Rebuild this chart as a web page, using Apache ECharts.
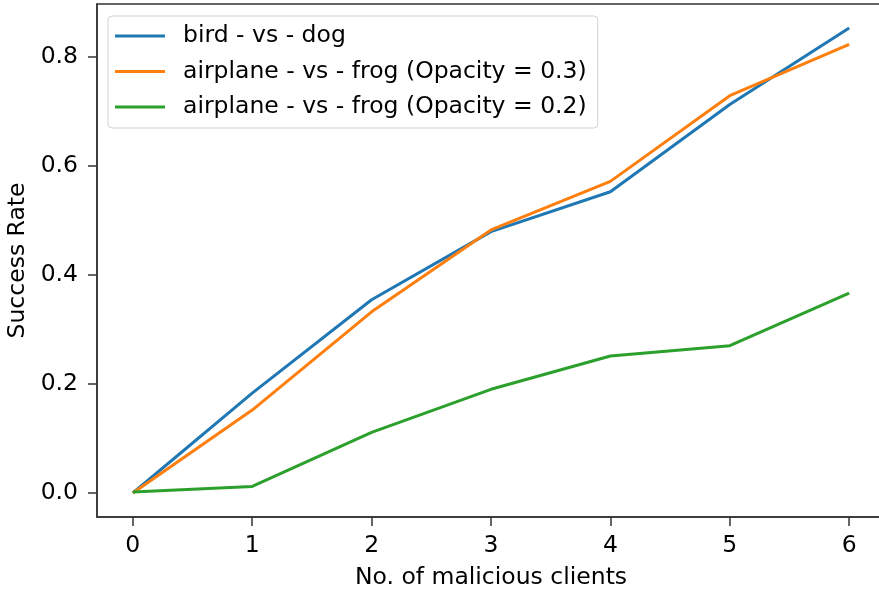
<!DOCTYPE html>
<html>
<head>
<meta charset="utf-8">
<script src="https://cdn.jsdelivr.net/npm/echarts@6/dist/echarts.min.js"></script>
<style>
html,body{margin:0;padding:0;background:#fff;}
#chart{width:879px;height:592px;}
</style>
</head>
<body>
<div id="chart"></div>
<script>
const clients = [0, 1, 2, 3, 4, 5, 6];
const birdVsDog = [0.0, 0.183, 0.354, 0.479, 0.552, 0.712, 0.852];
const airplaneFrog03 = [0.0, 0.152, 0.332, 0.482, 0.571, 0.728, 0.822];
const airplaneFrog02 = [0.002, 0.012, 0.111, 0.190, 0.251, 0.270, 0.366];
const xTicks = [0, 1, 2, 3, 4, 5, 6];
const yTicks = [0.0, 0.2, 0.4, 0.6, 0.8];
const seriesNames = [
  'bird - vs - dog',
  'airplane - vs - frog (Opacity = 0.3)',
  'airplane - vs - frog (Opacity = 0.2)'
];
const colors = ['#1f77b4', '#ff7f0e', '#2ca02c'];

const pair = (ys) => clients.map((x, i) => [x, ys[i]]);
const font = 'DejaVu Sans';
const txt = '#000';
const fs = 23.5;

const chart = echarts.init(document.getElementById('chart'));
chart.setOption({
  animation: false,
  backgroundColor: '#fff',
  color: colors,
  grid: {
    left: 97, top: 4, bottom: 75, right: -6,
    outerBoundsMode: 'none', containLabel: false,
    show: true, borderColor: '#333', borderWidth: 1.5, backgroundColor: 'transparent'
  },
  legend: {
    orient: 'vertical',
    left: 108, top: 16,
    icon: 'rect',
    itemWidth: 50, itemHeight: 3,
    itemGap: 9.5,
    padding: [7, 11, 8, 7],
    backgroundColor: 'rgba(255,255,255,0.8)',
    borderColor: '#d3d3d3', borderWidth: 1, borderRadius: 4,
    textStyle: { fontFamily: font, fontSize: fs, color: txt, lineHeight: 26, padding: [0, 0, 0, 13] },
    data: seriesNames
  },
  xAxis: {
    type: 'value', min: -0.3, max: 6.3,
    name: 'No. of malicious clients', nameLocation: 'middle', nameGap: 49,
    nameTextStyle: { fontFamily: font, fontSize: fs, color: txt },
    axisLine: { show: true, onZero: false, lineStyle: { color: '#333', width: 1.5 } },
    axisTick: { show: true, length: 9, inside: false, customValues: xTicks, lineStyle: { color: '#333', width: 1.5 } },
    axisLabel: { customValues: xTicks, fontFamily: font, fontSize: fs, color: txt, margin: 17, formatter: v => String(v) },
    splitLine: { show: false }
  },
  yAxis: {
    type: 'value', min: -0.044, max: 0.896,
    name: 'Success Rate', nameLocation: 'middle', nameGap: 66, nameRotate: 90,
    nameTextStyle: { fontFamily: font, fontSize: fs, color: txt },
    axisLine: { show: true, onZero: false, lineStyle: { color: '#333', width: 1.5 } },
    axisTick: { show: true, length: 9, inside: false, customValues: yTicks, lineStyle: { color: '#333', width: 1.5 } },
    axisLabel: { customValues: yTicks, fontFamily: font, fontSize: fs, color: txt, margin: 19, formatter: v => v.toFixed(1) },
    splitLine: { show: false }
  },
  series: [
    { name: seriesNames[0], type: 'line', data: pair(birdVsDog), symbol: 'none', lineStyle: { width: 3 } },
    { name: seriesNames[1], type: 'line', data: pair(airplaneFrog03), symbol: 'none', lineStyle: { width: 3 } },
    { name: seriesNames[2], type: 'line', data: pair(airplaneFrog02), symbol: 'none', lineStyle: { width: 3 } }
  ]
});
</script>
</body>
</html>
